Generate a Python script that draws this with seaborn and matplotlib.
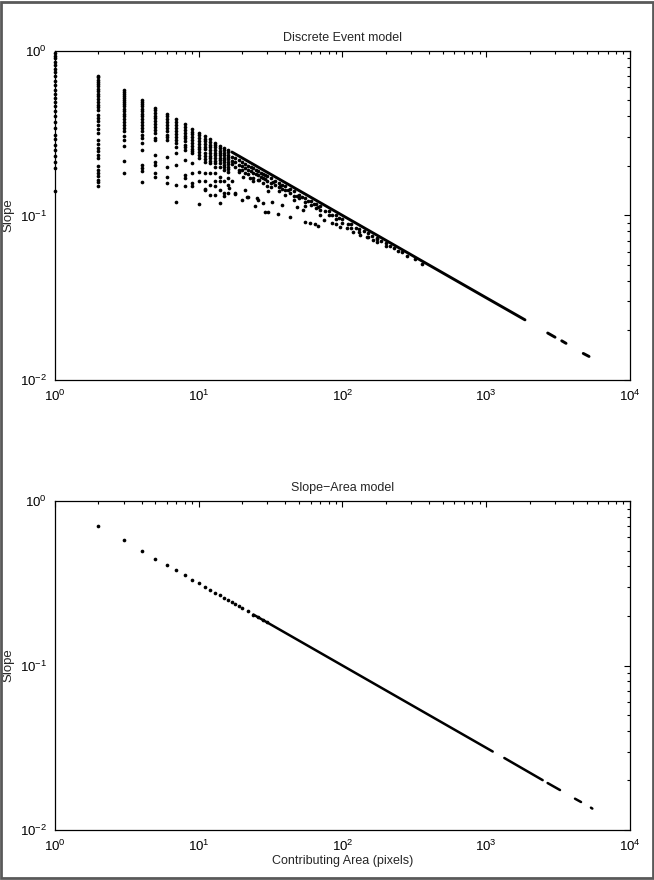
import matplotlib
matplotlib.use("Agg")
import matplotlib.pyplot as plt
import seaborn as sns
import pandas as pd
from matplotlib.patches import Rectangle
from matplotlib.ticker import LogLocator, LogFormatterMathtext, NullFormatter

# Discrete Event model: distinct columns of points at small integer areas
col_area = [1, 2, 3, 4, 5, 6, 7, 8, 9, 10, 11, 12, 13, 14, 15, 16]
col_slope = [
    [0.97, 0.93, 0.90, 0.86, 0.82, 0.78, 0.74, 0.70, 0.66, 0.62, 0.58, 0.55, 0.52, 0.49,
     0.46, 0.43, 0.40, 0.37, 0.34, 0.31, 0.29, 0.27, 0.25, 0.23, 0.21, 0.194, 0.14],
    [0.708, 0.69, 0.67, 0.65, 0.63, 0.61, 0.59, 0.57, 0.55, 0.53, 0.51, 0.49, 0.47, 0.455,
     0.44, 0.41, 0.392, 0.374, 0.357, 0.337, 0.318, 0.289, 0.272, 0.257, 0.246, 0.234,
     0.224, 0.199, 0.19, 0.181, 0.173, 0.165, 0.16, 0.15],
    [0.582, 0.565, 0.55, 0.535, 0.52, 0.505, 0.49, 0.475, 0.46, 0.445, 0.43, 0.415, 0.40,
     0.385, 0.37, 0.355, 0.34, 0.325, 0.303, 0.289, 0.263, 0.213, 0.181],
    [0.506, 0.49, 0.475, 0.46, 0.445, 0.43, 0.415, 0.40, 0.385, 0.37, 0.355, 0.34, 0.325,
     0.31, 0.296, 0.276, 0.251, 0.204, 0.195, 0.186, 0.16],
    [0.45, 0.435, 0.42, 0.405, 0.39, 0.375, 0.36, 0.345, 0.33, 0.315, 0.296, 0.288, 0.233,
     0.212, 0.203, 0.18, 0.172],
    [0.414, 0.40, 0.385, 0.37, 0.355, 0.34, 0.325, 0.31, 0.298, 0.288, 0.228, 0.198, 0.172,
     0.157],
    [0.384, 0.37, 0.356, 0.342, 0.328, 0.314, 0.30, 0.287, 0.274, 0.262, 0.239, 0.203,
     0.153, 0.12],
    [0.358, 0.345, 0.332, 0.319, 0.306, 0.294, 0.282, 0.27, 0.26, 0.25, 0.217, 0.176,
     0.168, 0.15],
    [0.336, 0.323, 0.311, 0.299, 0.287, 0.276, 0.265, 0.254, 0.245, 0.239, 0.208, 0.18,
     0.157, 0.15],
    [0.319, 0.307, 0.295, 0.284, 0.273, 0.262, 0.252, 0.242, 0.232, 0.223, 0.185, 0.161,
     0.117],
    [0.304, 0.293, 0.282, 0.272, 0.262, 0.252, 0.24, 0.23, 0.221, 0.212, 0.18, 0.161, 0.143],
    [0.29, 0.28, 0.27, 0.26, 0.25, 0.24, 0.231, 0.222, 0.215, 0.208, 0.18, 0.153, 0.133],
    [0.277, 0.268, 0.259, 0.25, 0.241, 0.232, 0.223, 0.215, 0.207, 0.198, 0.18, 0.161, 0.15],
    [0.266, 0.257, 0.248, 0.24, 0.232, 0.224, 0.216, 0.208, 0.198, 0.172, 0.161, 0.143,
     0.119],
    [0.257, 0.249, 0.241, 0.233, 0.225, 0.218, 0.211, 0.204, 0.197, 0.189, 0.161, 0.136],
    [0.25, 0.242, 0.234, 0.226, 0.219, 0.212, 0.205, 0.198, 0.191, 0.185, 0.168, 0.153,
     0.136],
]

# points just under the upper envelope (A > 16)
band_area = [17, 17, 17, 18, 18, 18, 19, 19, 19, 20, 20, 20, 21, 21, 21, 22, 22, 22,
             23, 23, 24, 24, 24, 25, 25, 26, 26, 26, 27, 27, 28, 28, 28, 29, 29, 30, 30, 30,
             32, 32, 32, 34, 34, 36, 36, 36, 38, 38, 40, 40, 40, 43, 43, 46, 46, 46, 50, 50,
             55, 55, 55, 60, 60, 65, 65, 70, 70, 70, 80, 80, 90, 90, 90, 100, 100, 115, 115,
             130, 130, 150, 150, 175, 175, 200, 200, 230, 260,
             33, 37, 42, 48, 52, 58, 63, 68, 75, 85, 95, 110, 125, 140, 160, 185, 215, 245,
             280, 320, 360]
band_slope = [0.228, 0.215, 0.205, 0.222, 0.210, 0.198, 0.216, 0.204, 0.19, 0.211, 0.199,
              0.188, 0.206, 0.193, 0.18, 0.201, 0.19, 0.178, 0.197, 0.186, 0.193, 0.182,
              0.17, 0.19, 0.179, 0.186, 0.175, 0.165, 0.182, 0.172, 0.179, 0.169, 0.158,
              0.176, 0.166, 0.174, 0.163, 0.152, 0.168, 0.158, 0.148, 0.163, 0.154, 0.158,
              0.149, 0.14, 0.154, 0.145, 0.150, 0.142, 0.133, 0.145, 0.137, 0.140, 0.132,
              0.125, 0.134, 0.127, 0.128, 0.121, 0.114, 0.123, 0.116, 0.118, 0.111, 0.114,
              0.108, 0.101, 0.107, 0.101, 0.100, 0.095, 0.089, 0.095, 0.090, 0.089, 0.084,
              0.083, 0.079, 0.078, 0.074, 0.072, 0.069, 0.068, 0.065, 0.063, 0.060,
              0.160, 0.151, 0.143, 0.131, 0.130, 0.122, 0.118, 0.113, 0.107, 0.101, 0.096,
              0.089, 0.084, 0.080, 0.075, 0.070, 0.065, 0.061, 0.057, 0.054, 0.051]

# scattered low points (A > 16)
low_area = [11, 13, 15, 18, 20, 21.5, 24.6, 26, 30.5, 32.2, 35.8, 37.7, 43, 48, 53, 55,
            59, 64, 68, 74, 84, 96, 107, 119, 132, 147, 164, 173,
            16.2, 17, 18, 19, 20.2, 21, 22, 22.7, 24, 25.3, 26.1, 28.1, 28.9, 30.5]
low_slope = [0.144, 0.134, 0.131, 0.135, 0.125, 0.130, 0.114, 0.124, 0.1055, 0.120,
             0.1017, 0.116, 0.0984, 0.113, 0.108, 0.0917, 0.0905, 0.0888, 0.0863, 0.0939,
             0.0896, 0.0855, 0.0836, 0.0797, 0.0761, 0.0737, 0.0710, 0.0727,
             0.146, 0.163, 0.136, 0.185, 0.172, 0.143, 0.130, 0.168, 0.161, 0.127, 0.164,
             0.119, 0.1055, 0.140]

# upper envelope and the far tail segments
env_seg = [0, 0, 0, 0, 0, 1, 1, 2, 2, 3, 3]
env_area = [17, 100, 300, 1000, 1860, 2675, 3010, 3350, 3590, 4730, 5190]
env_slope = [0.243, 0.100, 0.0577, 0.0316, 0.0232, 0.0193, 0.0182, 0.0173, 0.0167,
             0.0145, 0.0139]

# Slope-Area model
sa_dot_area = [2, 3, 4, 5, 6, 7, 8, 9, 10, 11, 12, 13, 14, 15, 16, 17, 18, 19, 20, 22,
               24, 26, 28, 30]
sa_dot_slope = [0.707, 0.577, 0.5, 0.447, 0.408, 0.378, 0.354, 0.333, 0.316, 0.302,
                0.289, 0.277, 0.267, 0.258, 0.25, 0.243, 0.236, 0.229, 0.224, 0.213,
                0.204, 0.196, 0.189, 0.183]
sa_seg = [0, 0, 1, 1, 2, 2, 3, 3, 4, 4]
sa_area = [24, 1109, 1336, 2468, 2672, 3258, 4145, 4563, 5350, 5470]
sa_slope = [0.204, 0.0300, 0.0274, 0.0201, 0.0193, 0.0175, 0.0155, 0.0148, 0.01367,
            0.0135]

de_area, de_slope = [], []
for a, ss in zip(col_area, col_slope):
    de_area += [a] * len(ss)
    de_slope += ss
de_area += band_area + low_area
de_slope += band_slope + low_slope
de = pd.DataFrame({"area": de_area, "slope": de_slope})
env = pd.DataFrame({"area": env_area, "slope": env_slope, "seg": env_seg})
sa_dots = pd.DataFrame({"area": sa_dot_area, "slope": sa_dot_slope})
sa = pd.DataFrame({"area": sa_area, "slope": sa_slope, "seg": sa_seg})

sns.set_style("white")
plt.rcParams["font.family"] = ["Liberation Sans", "DejaVu Sans"]
plt.rcParams["mathtext.default"] = "regular"

fig = plt.figure(figsize=(6.54, 8.80), dpi=100)
ax1 = fig.add_axes([0.0841, 0.5682, 0.8792, 0.3739])
ax2 = fig.add_axes([0.0841, 0.0568, 0.8792, 0.3739])

sns.scatterplot(data=de, x="area", y="slope", ax=ax1, color="k", s=7, marker="o",
                linewidth=0, legend=False, clip_on=False)
sns.lineplot(data=env, x="area", y="slope", units="seg", estimator=None, ax=ax1,
             color="k", lw=2.1, sort=False, legend=False)

sns.scatterplot(data=sa_dots, x="area", y="slope", ax=ax2, color="k", s=7, marker="o",
                linewidth=0, legend=False)
sns.lineplot(data=sa, x="area", y="slope", units="seg", estimator=None, ax=ax2,
             color="k", lw=1.8, sort=False, legend=False)

for ax, title in [(ax1, "Discrete Event model"), (ax2, "Slope\u2212Area model")]:
    ax.set_xscale("log")
    ax.set_yscale("log")
    ax.set_xlim(1, 1e4)
    ax.set_ylim(1e-2, 1)
    ax.xaxis.set_major_locator(LogLocator(base=10, numticks=10))
    ax.xaxis.set_minor_locator(LogLocator(base=10, subs=range(2, 10), numticks=20))
    ax.yaxis.set_major_locator(LogLocator(base=10, numticks=10))
    ax.yaxis.set_minor_locator(LogLocator(base=10, subs=range(2, 10), numticks=20))
    ax.xaxis.set_major_formatter(LogFormatterMathtext())
    ax.yaxis.set_major_formatter(LogFormatterMathtext())
    ax.xaxis.set_minor_formatter(NullFormatter())
    ax.yaxis.set_minor_formatter(NullFormatter())
    ax.tick_params(which="both", direction="in", top=True, right=True, width=0.8,
                   labelsize=9.5, pad=6, colors="k")
    ax.tick_params(which="major", length=4)
    ax.tick_params(which="minor", length=2.5)
    for sp in ax.spines.values():
        sp.set_visible(True)
        sp.set_color("k")
        sp.set_linewidth(0.9)
    ax.set_title(title, fontsize=9, pad=7)
    ax.set_ylabel("Slope", fontsize=9.5)
    ax.set_xlabel("")

ax2.set_xlabel("Contributing Area (pixels)", fontsize=9, labelpad=1)

fig.patches.append(Rectangle((0.002, 0.002), 0.996, 0.996, transform=fig.transFigure,
                             fill=False, ec="0.35", lw=2))

fig.savefig("out.png", dpi=100)
